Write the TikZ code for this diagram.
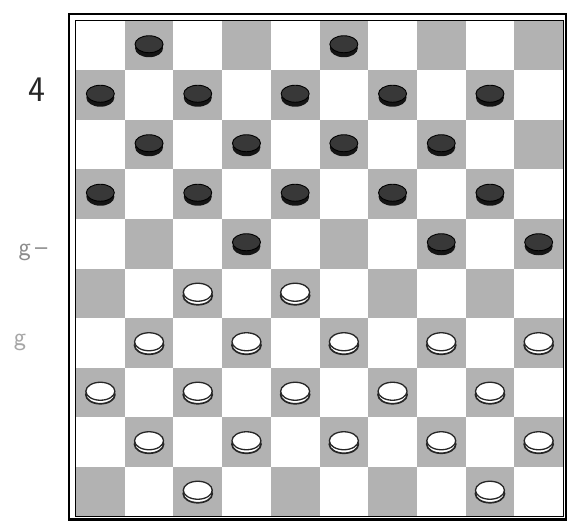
\documentclass[tikz,border=0pt]{standalone}
\usetikzlibrary{shapes.geometric}
\begin{document}
\begin{tikzpicture}[x=1pt,y=-1pt,
  darksq/.style={fill=black!30},
  bpiece/.style={ellipse,draw=black,fill=black!78,line width=0.9pt,minimum width=28pt,minimum height=17pt,inner sep=0pt},
  bbase/.style={fill=black!92},
  wpiece/.style={ellipse,draw=black!85,fill=white,line width=1.3pt,minimum width=29pt,minimum height=18pt,inner sep=0pt},
  wbase/.style={draw=black!85,fill=white,line width=1.7pt},
  lbl/.style={inner sep=0pt,anchor=center}]
\useasboundingbox (0,0) rectangle (567,521);
\fill[white] (0,0) rectangle (567,521);
% board squares
\foreach \r in {1,...,10}{
  \foreach \c in {1,...,10}{
    \pgfmathtruncatemacro\odd{mod(\r+\c,2)}
    \ifnum\odd=1
      \fill[darksq] ({76+48.7*(\c-1)},{21+49.5*(\r-1)}) rectangle ++(48.7,49.5);
    \fi
  }
}
% frame
\draw[line width=0.7pt] (75,20) rectangle (563.5,516.5);
\draw[line width=2.2pt] (69,14) rectangle (566,519.5);
% black pieces
\foreach \c/\r in {2/1,6/1,1/2,3/2,5/2,7/2,9/2,2/3,4/3,6/3,8/3,1/4,3/4,5/4,7/4,9/4,4/5,8/5,10/5}{
  \fill[bbase] ({76+48.7*(\c-0.5)},{21+49.5*(\r-0.5)+2.5}) ellipse (14pt and 9pt);
  \node[bpiece] (b\c-\r) at ({76+48.7*(\c-0.5)},{21+49.5*(\r-0.5)-1.5}) {};
}
% white pieces
\foreach \c/\r in {3/6,5/6,2/7,4/7,6/7,8/7,10/7,1/8,3/8,5/8,7/8,9/8,2/9,4/9,6/9,8/9,10/9,3/10,9/10}{
  \filldraw[wbase] ({76+48.7*(\c-0.5)},{21+49.5*(\r-0.5)+2.5}) ellipse (14.5pt and 9pt);
  \node[wpiece] (w\c-\r) at ({76+48.7*(\c-0.5)},{21+49.5*(\r-0.5)-1}) {};
}
% margin text fragments
\node[lbl,font=\sffamily\fontsize{36}{36}\selectfont,text=black!85] (t4) at (37,90) {4};
\node[lbl,font=\sffamily\fontsize{26}{26}\selectfont,text=black!45] (tg1) at (33,252) {g\,–};
\node[lbl,font=\sffamily\fontsize{26}{26}\selectfont,text=black!35] (tg2) at (20,342) {g};
\end{tikzpicture}
\end{document}
